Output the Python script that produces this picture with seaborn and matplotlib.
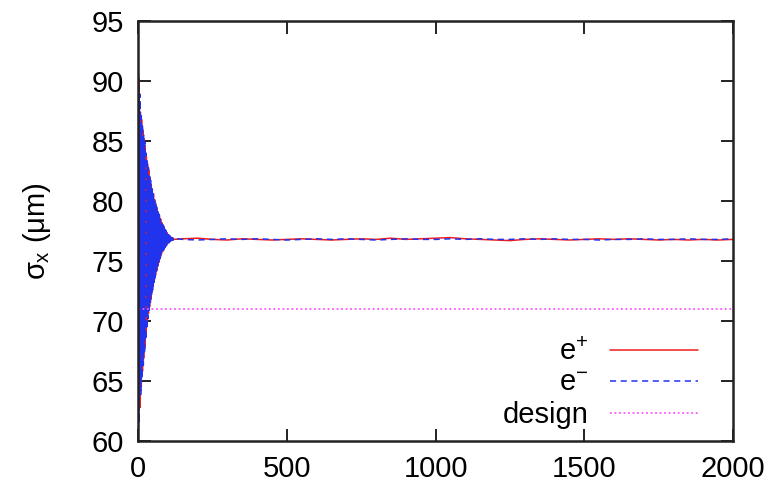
import numpy as np
import pandas as pd
import matplotlib
matplotlib.use("Agg")
import matplotlib.pyplot as plt
import seaborn as sns

# ---- data ----
# turn-by-turn beam size for the first 120 turns
e_plus_early = [
    91.7, 62.0, 88.5, 63.5, 90.2, 64.8, 86.0, 62.8, 87.4, 66.0,
    85.6, 64.5, 86.8, 67.2, 84.5, 65.8, 85.9, 68.0, 83.8, 66.9,
    85.2, 68.6, 83.5, 67.8, 84.6, 69.5, 82.9, 68.9, 83.7, 70.2,
    82.4, 69.7, 83.1, 71.0, 81.8, 70.6, 82.6, 71.5, 81.3, 71.2,
    82.0, 72.1, 80.9, 71.8, 81.4, 72.6, 80.5, 72.4, 81.0, 73.0,
    80.2, 72.9, 80.6, 73.5, 79.8, 73.4, 80.1, 73.9, 79.5, 73.8,
    79.7, 74.3, 79.2, 74.2, 79.4, 74.6, 78.9, 74.6, 79.0, 75.0,
    78.6, 74.9, 78.8, 75.2, 78.4, 75.3, 78.5, 75.5, 78.1, 75.6,
    78.2, 75.8, 77.9, 75.8, 78.0, 76.0, 77.7, 76.0, 77.8, 76.1,
    77.5, 76.2, 77.6, 76.3, 77.4, 76.3, 77.4, 76.4, 77.3, 76.5,
    77.2, 76.5, 77.2, 76.6, 77.1, 76.6, 77.0, 76.7, 77.0, 76.7,
    77.0, 76.7, 76.95, 76.75, 76.95, 76.75, 76.9, 76.75, 76.9, 76.8,
]
e_minus_early = [
    62.5, 90.8, 63.2, 89.5, 61.5, 87.8, 64.2, 88.9, 65.5, 86.2,
    63.8, 87.1, 66.5, 85.3, 65.2, 86.4, 67.6, 84.2, 66.3, 85.5,
    68.2, 83.9, 67.3, 84.9, 69.0, 83.2, 68.4, 84.0, 69.8, 82.7,
    69.3, 83.4, 70.6, 82.1, 70.2, 82.8, 71.2, 81.6, 70.9, 82.2,
    71.8, 81.1, 71.5, 81.7, 72.3, 80.7, 72.1, 81.2, 72.8, 80.4,
    72.6, 80.8, 73.2, 80.0, 73.1, 80.3, 73.7, 79.6, 73.6, 79.9,
    74.1, 79.3, 74.0, 79.5, 74.5, 79.0, 74.4, 79.1, 74.8, 78.7,
    74.8, 78.9, 75.1, 78.5, 75.2, 78.6, 75.4, 78.2, 75.5, 78.3,
    75.7, 78.0, 75.7, 78.1, 75.9, 77.8, 75.9, 77.9, 76.0, 77.6,
    76.1, 77.7, 76.2, 77.5, 76.2, 77.5, 76.3, 77.4, 76.4, 77.3,
    76.4, 77.3, 76.5, 77.2, 76.5, 77.1, 76.6, 77.1, 76.6, 77.0,
    76.7, 77.0, 76.7, 76.95, 76.7, 76.95, 76.75, 76.9, 76.75, 76.9,
]
# later turns, sampled sparsely
tail_turns = list(range(150, 2001, 50))
e_plus_tail = [
    76.85, 76.9, 76.8, 76.75, 76.85, 76.8, 76.75, 76.8, 76.85, 76.8,
    76.75, 76.8, 76.85, 76.8, 76.9, 76.8, 76.85, 76.9, 76.95, 76.85,
    76.8, 76.75, 76.7, 76.8, 76.85, 76.8, 76.75, 76.8, 76.85, 76.8,
    76.85, 76.8, 76.75, 76.8, 76.75, 76.8, 76.75, 76.8,
]
e_minus_tail = [
    76.8, 76.75, 76.8, 76.85, 76.8, 76.85, 76.8, 76.75, 76.8, 76.85,
    76.8, 76.85, 76.8, 76.75, 76.8, 76.85, 76.8, 76.8, 76.85, 76.8,
    76.85, 76.8, 76.8, 76.85, 76.8, 76.85, 76.8, 76.8, 76.75, 76.8,
    76.8, 76.85, 76.8, 76.8, 76.85, 76.8, 76.8, 76.85,
]
design_turns = [0, 2000]
design_values = [71.0, 71.0]
x_ticks = [0, 500, 1000, 1500, 2000]
y_ticks = [60, 65, 70, 75, 80, 85, 90, 95]

early_turns = list(range(len(e_plus_early)))
turns = early_turns + tail_turns
df = pd.DataFrame({
    "turn": turns,
    "e+": e_plus_early + e_plus_tail,
    "e-": e_minus_early + e_minus_tail,
})
dfd = pd.DataFrame({"turn": design_turns, "design": design_values})

# ---- style ----
sns.set_style("ticks")
plt.rcParams["font.family"] = ["Liberation Sans", "DejaVu Sans"]
plt.rcParams["mathtext.fontset"] = "custom"
plt.rcParams["mathtext.rm"] = "Liberation Sans"
plt.rcParams["mathtext.it"] = "Liberation Sans"
plt.rcParams["mathtext.sf"] = "Liberation Sans"
plt.rcParams["text.color"] = "black"
plt.rcParams["axes.labelcolor"] = "black"
plt.rcParams["xtick.color"] = "black"
plt.rcParams["ytick.color"] = "black"

fig = plt.figure(figsize=(7.78, 4.88), dpi=100)
ax = fig.add_axes([138 / 778, 1 - 441 / 488, (733 - 138) / 778, (441 - 21) / 488])

red = "#ee1c1c"
blue = "#2233ee"
magenta = "#ff55ff"

sns.lineplot(data=df, x="turn", y="e+", ax=ax, color=red, lw=1.1,
             estimator=None, sort=False, label="e$^{+}$")
sns.lineplot(data=df, x="turn", y="e-", ax=ax, color=blue, lw=1.1,
             estimator=None, sort=False, label="e$^{-}$")
ax.lines[-1].set_dashes([4, 3])
sns.lineplot(data=dfd, x="turn", y="design", ax=ax, color=magenta, lw=1.3,
             estimator=None, sort=False, label="design")
ax.lines[-1].set_dashes([1, 1.5])

ax.set_xlim(0, 2000)
ax.set_ylim(60, 95)
ax.set_xticks(x_ticks)
ax.set_yticks(y_ticks)
ax.set_xlabel("")
ax.set_ylabel(r"$\sigma_{\mathrm{x}}$ ($\mathrm{\mu}$m)", fontsize=21, labelpad=28)
ax.tick_params(axis="both", which="major", direction="in", length=9, width=1.4,
               labelsize=21, top=True, right=True, pad=10, color="#222222",
               labelcolor="black")
for s in ax.spines.values():
    s.set_linewidth(1.8)
    s.set_color("#222222")
    s.set_visible(True)

leg = ax.legend(loc="lower right", bbox_to_anchor=(0.975, -0.02), frameon=False,
                markerfirst=False, fontsize=21, handlelength=3.0,
                handletextpad=0.75, labelspacing=0.12, borderpad=0.2)
for t in leg.get_texts():
    t.set_color("black")

fig.savefig("out.png", dpi=100)
